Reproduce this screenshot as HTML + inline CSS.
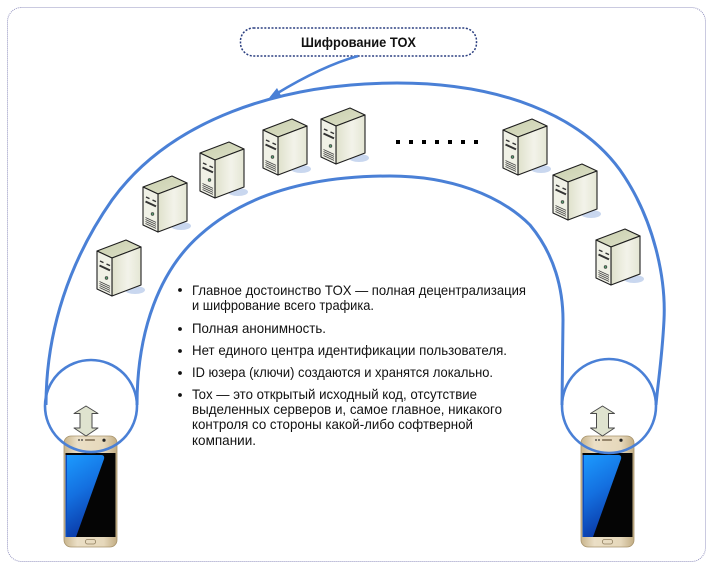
<!DOCTYPE html>
<html><head><meta charset="utf-8"><style>
html,body{margin:0;padding:0;background:#fff;}
svg{display:block;}
</style></head><body>
<svg width="712" height="569" viewBox="0 0 712 569" xmlns="http://www.w3.org/2000/svg">
<defs>
  <linearGradient id="side" x1="0" y1="0" x2="1" y2="0">
    <stop offset="0" stop-color="#dfe1cb"/>
    <stop offset="0.55" stop-color="#f3f3ea"/>
    <stop offset="1" stop-color="#e4e6d4"/>
  </linearGradient>
  <linearGradient id="topf" x1="0" y1="0" x2="1" y2="1">
    <stop offset="0" stop-color="#c9cfad"/>
    <stop offset="1" stop-color="#dde0c8"/>
  </linearGradient>
  <linearGradient id="gold" x1="0" y1="0" x2="1" y2="0">
    <stop offset="0" stop-color="#c8b48c"/>
    <stop offset="0.25" stop-color="#ebdfc6"/>
    <stop offset="0.75" stop-color="#e6d8bb"/>
    <stop offset="1" stop-color="#c2ad84"/>
  </linearGradient>
  <linearGradient id="blue" x1="0" y1="0" x2="0.3" y2="1">
    <stop offset="0" stop-color="#1c9bff"/>
    <stop offset="0.5" stop-color="#1470e0"/>
    <stop offset="1" stop-color="#0a3aa8"/>
  </linearGradient>
  <g id="srv">
    <ellipse cx="38" cy="50" rx="10" ry="4" fill="#c9d7ef"/>
    <polygon points="0,11 29,0 44,7 15,18" fill="url(#topf)" stroke="#1e1e1e" stroke-width="1.1" stroke-linejoin="round"/>
    <polygon points="15,18 44,7 44,45 15,56" fill="url(#side)" stroke="#1e1e1e" stroke-width="1.1" stroke-linejoin="round"/>
    <polygon points="0,11 15,18 15,56 0,49" fill="#f0f1e6" stroke="#1e1e1e" stroke-width="1.1" stroke-linejoin="round"/>
    <line x1="3" y1="21" x2="6.5" y2="22.6" stroke="#333" stroke-width="1.4"/>
    <line x1="9.5" y1="24" x2="13" y2="25.6" stroke="#333" stroke-width="1.4"/>
    <line x1="2.5" y1="25.5" x2="13" y2="30.4" stroke="#333" stroke-width="2"/>
    <circle cx="9.5" cy="38" r="1.4" fill="#5a9a70" stroke="#333" stroke-width="0.6"/>
    <line x1="2.5" y1="41.5" x2="13" y2="46.4" stroke="#444" stroke-width="0.8"/>
    <line x1="2.5" y1="43.5" x2="13" y2="48.4" stroke="#444" stroke-width="0.8"/>
    <line x1="2.5" y1="45.5" x2="13" y2="50.4" stroke="#444" stroke-width="0.8"/>
    <line x1="2.5" y1="47.5" x2="13" y2="52.4" stroke="#444" stroke-width="0.8"/>
  </g>
  <g id="phone">
    <rect x="0" y="0" width="53" height="111" rx="7" fill="url(#gold)" stroke="#a8946c" stroke-width="0.8"/>
    <rect x="1.5" y="17" width="50" height="84" fill="#050505"/>
    <path d="M2,19 L37,19 Q41,19 40,23 L12,101 L2,101 Z" fill="url(#blue)"/>
    <rect x="1.5" y="19" width="1.5" height="82" fill="#0a4cc0"/>
    <circle cx="15" cy="4" r="0.9" fill="#333"/>
    <circle cx="18" cy="4" r="0.9" fill="#333"/>
    <rect x="21" y="3.3" width="10" height="1.5" rx="0.7" fill="#7a6a50"/>
    <circle cx="40" cy="4.2" r="1.6" fill="#222"/>
    <rect x="21.5" y="103.5" width="10" height="4.5" rx="2" fill="none" stroke="#8e7e5e" stroke-width="0.8"/>
  </g>
</defs>

<!-- outer dotted border -->
<rect x="7.5" y="7.5" width="698" height="554" rx="14" fill="none" stroke="#9494c0" stroke-width="1" stroke-dasharray="1 1"/>

<!-- title box -->
<rect x="240.5" y="28" width="236" height="28" rx="13" fill="#fff" stroke="#2b3f80" stroke-width="1.5" stroke-dasharray="2 1.6"/>
<text x="358.5" y="47" text-anchor="middle" font-family="'Liberation Sans', sans-serif" font-weight="bold" font-size="14" fill="#111" textLength="115" lengthAdjust="spacingAndGlyphs">Шифрование TOX</text>

<!-- connector -->
<path d="M358,56 Q322,66 276,94" fill="none" stroke="#4a80d6" stroke-width="2.5"/>
<polygon points="269,98 281,95.5 277,88" fill="#4a80d6"/>

<!-- arch -->
<path d="M46,405 C46,330 70,260 112,200 C170,120 280,83 397,83 C500,83 580,115 620,170 C655,220 666,280 664,320 C662,360 657,390 656,405" fill="none" stroke="#4a80d6" stroke-width="3"/>
<path d="M137,405 C137,330 160,270 200,235 C250,190 320,176 390,176 C450,176 500,195 530,225 C555,255 563,290 563,320 L562,405" fill="none" stroke="#4a80d6" stroke-width="3"/>

<!-- servers -->
<use href="#srv" x="97" y="240"/>
<use href="#srv" x="143" y="176"/>
<use href="#srv" x="200" y="142"/>
<use href="#srv" x="263" y="119"/>
<use href="#srv" x="321" y="108"/>
<use href="#srv" x="503" y="119"/>
<use href="#srv" x="553" y="164"/>
<use href="#srv" x="596" y="229"/>

<!-- dots -->
<g fill="#000">
  <rect x="396" y="140" width="4" height="4"/>
  <rect x="409" y="140" width="4" height="4"/>
  <rect x="422" y="140" width="4" height="4"/>
  <rect x="435" y="140" width="4" height="4"/>
  <rect x="448" y="140" width="4" height="4"/>
  <rect x="461" y="140" width="4" height="4"/>
  <rect x="474" y="140" width="4" height="4"/>
</g>

<!-- text -->
<g font-family="'Liberation Sans', sans-serif" font-size="14" fill="#111" lengthAdjust="spacingAndGlyphs">
  <circle cx="180" cy="290" r="1.9"/>
  <text x="192" y="295" textLength="334" lengthAdjust="spacingAndGlyphs">Главное достоинство TOX — полная децентрализация</text>
  <text x="192" y="310" textLength="182" lengthAdjust="spacingAndGlyphs">и шифрование всего трафика.</text>
  <circle cx="180" cy="329" r="1.9"/>
  <text x="192" y="333" textLength="134" lengthAdjust="spacingAndGlyphs">Полная анонимность.</text>
  <circle cx="180" cy="351" r="1.9"/>
  <text x="192" y="355" textLength="315" lengthAdjust="spacingAndGlyphs">Нет единого центра идентификации пользователя.</text>
  <circle cx="180" cy="373" r="1.9"/>
  <text x="192" y="377" textLength="301" lengthAdjust="spacingAndGlyphs">ID юзера (ключи) создаются и хранятся локально.</text>
  <circle cx="180" cy="395" r="1.9"/>
  <text x="192" y="399" textLength="285" lengthAdjust="spacingAndGlyphs">Tox — это открытый исходный код, отсутствие</text>
  <text x="192" y="414" textLength="310" lengthAdjust="spacingAndGlyphs">выделенных серверов и, самое главное, никакого</text>
  <text x="192" y="429" textLength="281" lengthAdjust="spacingAndGlyphs">контроля со стороны какой-либо софтверной</text>
  <text x="192" y="445" textLength="64" lengthAdjust="spacingAndGlyphs">компании.</text>
</g>

<!-- phones -->
<use href="#phone" x="64" y="436"/>
<use href="#phone" x="581" y="436"/>

<!-- double arrows -->
<polygon points="86,406 98,413.5 92,413.5 92,428 98,428 86,436 74,428 80,428 80,413.5 74,413.5" fill="#dfe3cf" stroke="#4a4a4a" stroke-width="1" stroke-linejoin="round"/>
<polygon points="602.5,406 614.5,413.5 608.5,413.5 608.5,428 614.5,428 602.5,436 590.5,428 596.5,428 596.5,413.5 590.5,413.5" fill="#dfe3cf" stroke="#4a4a4a" stroke-width="1" stroke-linejoin="round"/>

<!-- circles -->
<circle cx="91" cy="406" r="46" fill="none" stroke="#4a80d6" stroke-width="2.6"/>
<circle cx="609" cy="406" r="47" fill="none" stroke="#4a80d6" stroke-width="2.6"/>
</svg>
</body></html>
